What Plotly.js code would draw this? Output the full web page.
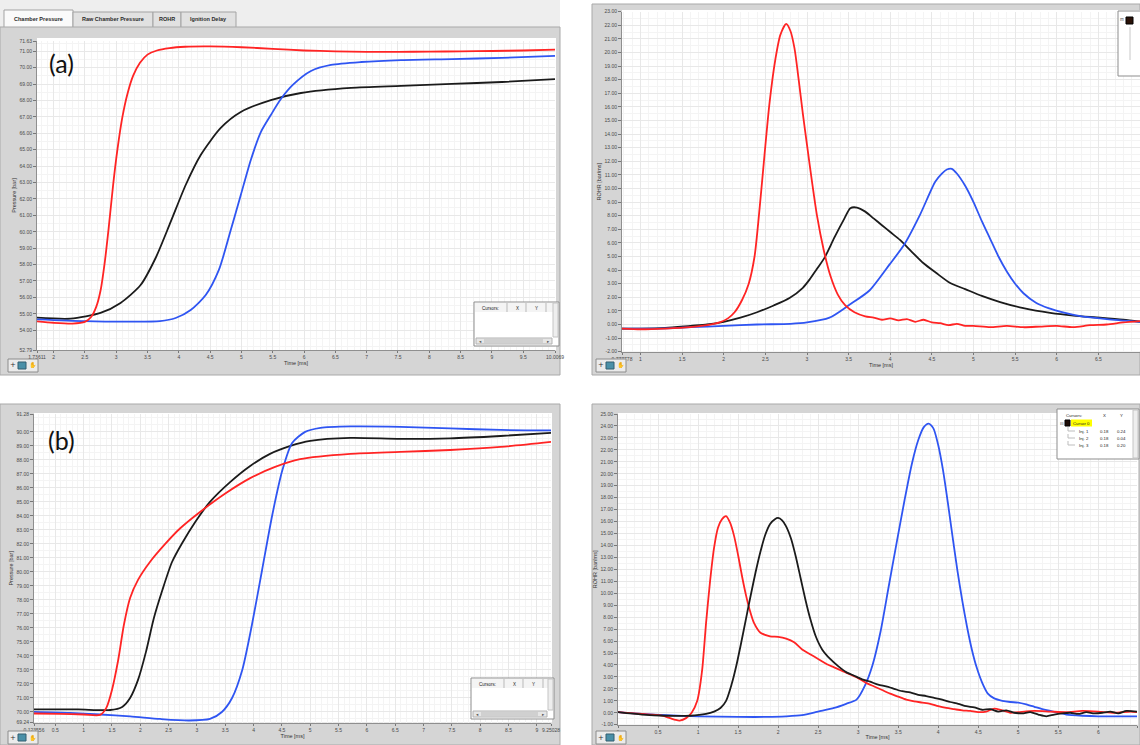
<!DOCTYPE html>
<html>
<head>
<meta charset="utf-8">
<script src="https://cdn.plot.ly/plotly-3.0.1.min.js"></script>
<style>
  html, body { margin: 0; padding: 0; background: #ffffff; }
  #chart { width: 1140px; height: 745px; }
</style>
</head>
<body>
<div id="chart"></div>
<script>
// ---------------- (a) chamber pressure [bar] vs time [ms] ----------------
const tRedA = [1.73611, 2.0, 2.3, 2.5, 2.6, 2.68, 2.75, 2.82, 2.88, 2.95, 3.02, 3.1, 3.18, 3.27, 3.38, 3.5, 3.65, 3.85, 4.1, 4.5, 5.0, 5.5, 6.0, 6.5, 7.0, 7.5, 8.0, 8.5, 9.0, 9.5, 10.0069];
const pRedA = [54.54, 54.45, 54.4, 54.5, 54.8, 55.4, 56.4, 58.2, 60.2, 62.8, 65.0, 67.0, 68.4, 69.5, 70.3, 70.8, 71.05, 71.2, 71.28, 71.3, 71.25, 71.15, 71.05, 71.0, 70.97, 70.97, 70.98, 71.0, 71.02, 71.05, 71.1];
const tBlkA = [1.73611, 2.27, 2.75, 3.07, 3.39, 3.63, 3.87, 4.11, 4.35, 4.67, 4.99, 5.47, 5.95, 6.75, 7.55, 8.36, 9.16, 10.0069];
const pBlkA = [54.76, 54.7, 55.05, 55.66, 56.75, 58.4, 60.6, 62.85, 64.68, 66.33, 67.3, 68.03, 68.46, 68.77, 68.89, 69.01, 69.13, 69.31];
const tBluA = [1.73611, 2.5, 3.2, 3.7, 3.95, 4.19, 4.43, 4.64, 4.83, 4.99, 5.15, 5.31, 5.47, 5.63, 5.82, 6.11, 6.43, 6.91, 7.55, 8.36, 9.16, 10.0069];
const pBluA = [54.66, 54.55, 54.52, 54.55, 54.74, 55.23, 56.14, 57.67, 60.11, 62.24, 64.38, 66.08, 67.12, 68.09, 68.95, 69.8, 70.17, 70.35, 70.47, 70.53, 70.6, 70.72];

// ---------------- (a) rate of heat release [bar/ms] ----------------
const tRedB = [0.777778, 1.0, 1.3, 1.6, 1.8, 1.95, 2.05, 2.13, 2.22, 2.3, 2.37, 2.43, 2.49, 2.55, 2.62, 2.68, 2.75, 2.8, 2.85, 2.9, 2.95, 3.0, 3.06, 3.12, 3.2, 3.28, 3.37, 3.46, 3.57, 3.7, 3.8, 3.9, 4.0, 4.1, 4.2, 4.3, 4.4, 4.5, 4.6, 4.7, 4.8, 4.9, 5.0, 5.2, 5.4, 5.6, 5.8, 6.0, 6.2, 6.4, 6.6, 6.8, 7.0];
const vRedB = [-0.3, -0.35, -0.3, -0.2, -0.05, 0.15, 0.45, 0.9, 1.8, 3.0, 5.0, 8.5, 12.5, 16.3, 19.5, 21.3, 22.1, 21.6, 20.3, 18.0, 15.5, 13.2, 10.5, 8.0, 5.5, 3.6, 2.2, 1.4, 0.9, 0.6, 0.5, 0.35, 0.45, 0.3, 0.4, 0.2, 0.35, 0.15, 0.1, -0.05, 0.05, -0.1, -0.1, -0.2, -0.1, -0.2, -0.15, -0.1, -0.2, -0.05, 0.0, 0.15, 0.25];
const tBlkB = [0.777778, 1.0, 1.3, 1.6, 1.8, 2.0, 2.2, 2.4, 2.6, 2.79, 2.95, 3.03, 3.12, 3.21, 3.33, 3.45, 3.52, 3.6, 3.7, 3.8, 3.9, 4.0, 4.12, 4.25, 4.4, 4.55, 4.72, 4.9, 5.1, 5.32, 5.6, 5.92, 6.2, 6.52, 6.8, 7.0];
const vBlkB = [-0.3, -0.3, -0.25, -0.1, 0.0, 0.2, 0.5, 0.9, 1.4, 1.95, 2.7, 3.3, 4.1, 4.9, 6.4, 7.8, 8.55, 8.6, 8.3, 7.8, 7.3, 6.8, 6.2, 5.4, 4.5, 3.8, 3.05, 2.6, 2.1, 1.65, 1.2, 0.85, 0.65, 0.5, 0.35, 0.2];
const tBluB = [0.777778, 1.2, 1.6, 2.0, 2.4, 2.8, 3.0, 3.27, 3.51, 3.75, 3.99, 4.17, 4.36, 4.54, 4.62, 4.68, 4.74, 4.8, 4.9, 5.0, 5.1, 5.2, 5.3, 5.4, 5.5, 5.6, 5.75, 5.9, 6.1, 6.3, 6.6, 7.0];
const vBluB = [-0.3, -0.3, -0.2, -0.1, 0.0, 0.05, 0.15, 0.5, 1.45, 2.5, 4.4, 5.9, 8.1, 10.5, 11.1, 11.4, 11.45, 11.1, 10.2, 9.0, 7.6, 6.3, 5.0, 3.9, 3.0, 2.3, 1.6, 1.2, 0.85, 0.6, 0.4, 0.2];

// ---------------- (b) chamber pressure [bar] vs time [ms] ----------------
const tRedC = [0.123556, 0.58, 1.0, 1.29, 1.4, 1.5, 1.61, 1.71, 1.82, 1.96, 2.17, 2.44, 2.7, 3.06, 3.5, 3.94, 4.38, 4.82, 5.71, 6.59, 7.47, 8.36, 9.25028];
const pRedC = [69.89, 69.86, 69.82, 69.79, 70.29, 71.57, 73.71, 76.21, 78.14, 79.43, 80.71, 82.0, 83.1, 84.3, 85.6, 86.7, 87.5, 88.05, 88.43, 88.57, 88.71, 88.93, 89.29];
const tBlkC = [0.123556, 0.9, 1.47, 1.68, 1.82, 1.96, 2.1, 2.24, 2.39, 2.56, 2.74, 2.97, 3.23, 3.59, 3.94, 4.29, 4.65, 5.0, 5.71, 6.59, 7.47, 8.36, 9.25028];
const pBlkC = [70.18, 70.18, 70.14, 70.36, 71.0, 72.29, 74.29, 76.71, 78.71, 80.71, 82.07, 83.57, 85.0, 86.43, 87.57, 88.43, 89.0, 89.36, 89.57, 89.5, 89.54, 89.71, 89.93];
const tBluC = [0.123556, 0.76, 1.29, 1.82, 2.35, 2.86, 3.23, 3.44, 3.62, 3.8, 3.97, 4.15, 4.33, 4.51, 4.68, 4.91, 5.18, 5.71, 6.59, 7.47, 8.36, 9.25028];
const pBluC = [70.0, 69.93, 69.82, 69.68, 69.5, 69.39, 69.5, 70.0, 71.0, 73.0, 76.21, 80.14, 84.07, 87.29, 89.21, 90.0, 90.29, 90.39, 90.36, 90.25, 90.14, 90.11];

// ---------------- (b) rate of heat release [bar/ms] ----------------
const tRedD = [0, 0.2, 0.4, 0.55, 0.65, 0.72, 0.77, 0.85, 0.92, 0.99, 1.05, 1.1, 1.15, 1.2, 1.25, 1.3, 1.35, 1.4, 1.45, 1.5, 1.55, 1.6, 1.65, 1.7, 1.78, 1.9, 2.0, 2.1, 2.2, 2.3, 2.4, 2.5, 2.6, 2.7, 2.8, 2.9, 3.0, 3.1, 3.2, 3.3, 3.4, 3.5, 3.6, 3.7, 3.8, 3.9, 4.0, 4.1, 4.2, 4.3, 4.4, 4.5, 4.6, 4.7, 4.8, 4.9, 5.0, 5.2, 5.4, 5.6, 5.8, 6.0, 6.2, 6.4, 6.48333];
const vRedD = [0.05, -0.05, -0.15, -0.25, -0.45, -0.6, -0.65, -0.45, 0.0, 1.0, 3.5, 7.5, 11.0, 13.8, 15.5, 16.2, 16.45, 15.9, 14.8, 13.2, 11.4, 9.8, 8.5, 7.5, 6.7, 6.4, 6.35, 6.2, 5.9, 5.3, 4.9, 4.5, 4.1, 3.8, 3.5, 3.2, 2.9, 2.5, 2.2, 1.9, 1.6, 1.35, 1.1, 0.95, 0.85, 0.75, 0.55, 0.4, 0.3, 0.2, 0.15, 0.05, 0.1, 0.35, 0.2, 0.0, 0.05, 0.15, 0.1, 0.05, 0.15, 0.1, 0.0, 0.1, 0.05];
const tBlkD = [0, 0.3, 0.6, 0.9, 1.1, 1.2, 1.28, 1.35, 1.42, 1.48, 1.54, 1.6, 1.66, 1.72, 1.78, 1.84, 1.9, 1.96, 2.0, 2.05, 2.1, 2.16, 2.22, 2.28, 2.34, 2.4, 2.47, 2.55, 2.65, 2.75, 2.85, 2.95, 3.05, 3.15, 3.25, 3.35, 3.45, 3.55, 3.65, 3.75, 3.85, 3.95, 4.05, 4.15, 4.25, 4.35, 4.45, 4.55, 4.65, 4.75, 4.85, 4.95, 5.05, 5.15, 5.25, 5.35, 5.45, 5.55, 5.65, 5.75, 5.85, 5.95, 6.05, 6.15, 6.25, 6.35, 6.48333];
const vBlkD = [0.05, -0.15, -0.25, -0.25, -0.1, 0.1, 0.4, 1.0, 2.4, 4.0, 5.9, 7.9, 9.9, 11.8, 13.5, 14.9, 15.8, 16.2, 16.3, 16.1, 15.6, 14.6, 13.1, 11.3, 9.5, 7.9, 6.4, 5.3, 4.5, 3.9, 3.4, 3.1, 2.8, 2.6, 2.35, 2.2, 2.0, 1.8, 1.7, 1.5, 1.4, 1.25, 1.1, 0.9, 0.75, 0.55, 0.45, 0.25, 0.3, 0.1, 0.2, 0.0, -0.05, 0.05, -0.15, -0.3, -0.15, -0.05, 0.0, -0.1, 0.05, -0.05, 0.0, 0.1, -0.05, 0.15, 0.1];
const tBluD = [0, 0.3, 0.6, 1.0, 1.5, 1.85, 2.1, 2.3, 2.5, 2.7, 2.85, 2.98, 3.08, 3.18, 3.28, 3.38, 3.48, 3.58, 3.67, 3.75, 3.82, 3.88, 3.94, 4.0, 4.06, 4.12, 4.18, 4.24, 4.3, 4.36, 4.42, 4.48, 4.55, 4.62, 4.7, 4.8, 4.9, 5.0, 5.1, 5.2, 5.3, 5.4, 5.5, 5.6, 5.8, 6.0, 6.2, 6.48333];
const vBluD = [0.05, -0.1, -0.2, -0.3, -0.35, -0.35, -0.3, -0.2, 0.1, 0.4, 0.75, 1.1, 2.2, 4.0, 6.8, 10.5, 14.2, 17.8, 20.8, 22.8, 23.9, 24.2, 23.8, 22.4, 20.3, 17.6, 14.7, 11.9, 9.4, 7.2, 5.3, 3.8, 2.5, 1.6, 1.2, 1.0, 0.9, 0.85, 0.7, 0.5, 0.3, 0.15, 0.0, -0.15, -0.25, -0.3, -0.3, -0.3];

// ---------------- axis ticks ----------------
const xTicksA = [1.73611, 2, 2.5, 3, 3.5, 4, 4.5, 5, 5.5, 6, 6.5, 7, 7.5, 8, 8.5, 9, 9.5, 10.0069];
const yTicksA = [52.79, 54, 55, 56, 57, 58, 59, 60, 61, 62, 63, 64, 65, 66, 67, 68, 69, 70, 71, 71.63];
const xTicksB = [0.777778, 1, 1.5, 2, 2.5, 3, 3.5, 4, 4.5, 5, 5.5, 6, 6.5, 7];
const yTicksB = [-2, -1, 0, 1, 2, 3, 4, 5, 6, 7, 8, 9, 10, 11, 12, 13, 14, 15, 16, 17, 18, 19, 20, 21, 22, 23];
const xTicksC = [0.123556, 0.5, 1, 1.5, 2, 2.5, 3, 3.5, 4, 4.5, 5, 5.5, 6, 6.5, 7, 7.5, 8, 8.5, 9, 9.25028];
const yTicksC = [69.24, 70, 71, 72, 73, 74, 75, 76, 77, 78, 79, 80, 81, 82, 83, 84, 85, 86, 87, 88, 89, 90, 91.28];
const xTicksD = [0, 0.5, 1, 1.5, 2, 2.5, 3, 3.5, 4, 4.5, 5, 5.5, 6, 6.48333];
const yTicksD = [-1, 0, 1, 2, 3, 4, 5, 6, 7, 8, 9, 10, 11, 12, 13, 14, 15, 16, 17, 18, 19, 20, 21, 22, 23, 24, 25];

const tabNames = ['Chamber Pressure', 'Raw Chamber Pressure', 'ROHR', 'Ignition Delay'];
const cursorRows = [['Inj. 1', '0.18', '0.24'], ['Inj. 2', '0.18', '0.04'], ['Inj. 3', '0.18', '0.20']];

// ---------------- page geometry (pixels) ----------------
const W = 1140, H = 745;
const fx = v => v / W;
const fy = v => 1 - v / H;

const RED = '#ff2424', BLACK = '#1b1b1b', BLUE = '#2f55f2';
const tickFont = { family: 'Liberation Sans, Arial, sans-serif', size: 5, color: '#4a4a4a' };
const titleFont = { family: 'Liberation Sans, Arial, sans-serif', size: 5.5, color: '#333333' };

const xLabel = v => String(v);
const yLabel = v => v.toFixed(2);

function xAxis(px0, px1, range, ticks, anchor, minorStep) {
  return {
    domain: [fx(px0), fx(px1)], range, anchor,
    tickmode: 'array', tickvals: ticks, ticktext: ticks.map(xLabel),
    ticks: 'outside', ticklen: 2, tickcolor: '#777777', tickfont: tickFont,
    showline: true, linecolor: '#8f8f8f', linewidth: 1,
    showgrid: true, gridcolor: '#e8e8e8', gridwidth: 1, zeroline: false,
    minor: { dtick: minorStep, showgrid: true, gridcolor: '#f4f4f4', gridwidth: 1 },
    title: { text: 'Time [ms]', font: titleFont, standoff: 1 },
    automargin: false, fixedrange: true
  };
}
function yAxis(py0, py1, range, ticks, anchor, label, minorStep) {
  return {
    domain: [fy(py1), fy(py0)], range, anchor,
    tickmode: 'array', tickvals: ticks, ticktext: ticks.map(yLabel),
    ticks: 'outside', ticklen: 3, tickcolor: '#777777', tickfont: tickFont,
    showline: true, linecolor: '#8f8f8f', linewidth: 1,
    showgrid: true, gridcolor: '#e8e8e8', gridwidth: 1, zeroline: false,
    minor: { dtick: minorStep, showgrid: true, gridcolor: '#f4f4f4', gridwidth: 1 },
    title: { text: label, font: titleFont, standoff: 2 },
    automargin: false, fixedrange: true
  };
}

function line(x, y, color, xa, ya) {
  return { type: 'scatter', mode: 'lines', x, y, xaxis: xa, yaxis: ya,
    line: { color, width: 1.8, shape: 'spline', smoothing: 0.7 }, hoverinfo: 'skip' };
}

const data = [
  line(tBlkA, pBlkA, BLACK, 'x', 'y'),
  line(tBluA, pBluA, BLUE, 'x', 'y'),
  line(tRedA, pRedA, RED, 'x', 'y'),
  line(tBlkB, vBlkB, BLACK, 'x2', 'y2'),
  line(tBluB, vBluB, BLUE, 'x2', 'y2'),
  line(tRedB, vRedB, RED, 'x2', 'y2'),
  line(tBlkC, pBlkC, BLACK, 'x3', 'y3'),
  line(tBluC, pBluC, BLUE, 'x3', 'y3'),
  line(tRedC, pRedC, RED, 'x3', 'y3'),
  line(tBluD, vBluD, BLUE, 'x4', 'y4'),
  line(tRedD, vRedD, RED, 'x4', 'y4'),
  line(tBlkD, vBlkD, BLACK, 'x4', 'y4')
];

// ---------------- frames, panels, cursor boxes ----------------
const shapes = [];
const annotations = [];
function rect(x0, y0, x1, y1, fill, lineColor, layer, lw) {
  shapes.push({ type: 'rect', xref: 'paper', yref: 'paper',
    x0: fx(x0), x1: fx(x1), y0: fy(y1), y1: fy(y0),
    fillcolor: fill, line: { color: lineColor || 'rgba(0,0,0,0)', width: lineColor ? (lw || 1) : 0 },
    layer: layer || 'below' });
}
function seg(x0, y0, x1, y1, color, layer) {
  shapes.push({ type: 'line', xref: 'paper', yref: 'paper',
    x0: fx(x0), x1: fx(x1), y0: fy(y0), y1: fy(y1),
    line: { color, width: 1 }, layer: layer || 'above' });
}
function text(x, y, t, size, opts) {
  annotations.push(Object.assign({ xref: 'paper', yref: 'paper', x: fx(x), y: fy(y), text: t,
    showarrow: false, xanchor: 'center', yanchor: 'middle',
    font: { family: 'Liberation Sans, Arial, sans-serif', size, color: '#222222' } }, opts || {}));
}

// tab strip above the first graph
rect(0, 0, 560, 28, '#eeeeee');
const tabEdges = [[4, 73], [73, 153], [153, 181], [181, 236]];
tabEdges.forEach((e, i) => {
  rect(e[0], i === 0 ? 10 : 12, e[1], 28, i === 0 ? '#fafafa' : '#e1e1e1', '#a3a3a3');
  text((e[0] + e[1]) / 2, 19.5, '<b>' + tabNames[i] + '</b>', 5.5, { font: { family: 'Liberation Sans, Arial, sans-serif', size: 5.5, color: '#2a2a2a' } });
});

// grey graph panels
rect(0, 27, 560, 375, '#d5d5d5', '#a9a9a9');
rect(592, 4, 1140, 375, '#d5d5d5', '#a9a9a9');
rect(0, 404, 560, 745, '#d5d5d5', '#a9a9a9');
rect(592, 404, 1140, 745, '#d5d5d5', '#a9a9a9');

// white plotting areas
rect(37, 38, 556, 350, '#ffffff');
rect(622, 10, 1140, 351.7, '#ffffff');
rect(34, 413, 552, 722.6, '#ffffff');
rect(618, 413, 1138, 724.7, '#ffffff');

// graph palette toolbars
[[8, 359], [596, 359], [8, 731], [596, 731]].forEach(p => {
  const x = p[0], y = p[1];
  rect(x, y, x + 30, y + 13, '#ebebeb', '#8c8c8c', 'above');
  text(x + 5, y + 6.5, '+', 7, { font: { family: 'DejaVu Sans', size: 7, color: '#333' } });
  rect(x + 10, y + 3, x + 18, y + 10, '#4a90a8', '#335f70', 'above');
  text(x + 24, y + 6.5, '✋', 6, { font: { family: 'DejaVu Sans', size: 6, color: '#444' } });
});

// cursor tables on the pressure graphs
function cursorBox(x0, y0, x1, y1) {
  rect(x0, y0, x1, y1, '#ffffff', '#8d8d8d', 'above');
  rect(x0 + 1, y0 + 1, x1 - 1, y0 + 10, '#f4f4f4', null, 'above');
  seg(x0 + 33, y0 + 1, x0 + 33, y0 + 10, '#b9b9b9');
  seg(x0 + 52, y0 + 1, x0 + 52, y0 + 10, '#b9b9b9');
  seg(x0 + 72, y0 + 1, x0 + 72, y0 + 10, '#b9b9b9');
  text(x0 + 16, y0 + 6, 'Cursors:', 4.5);
  text(x0 + 43, y0 + 6, 'X', 4.5);
  text(x0 + 62, y0 + 6, 'Y', 4.5);
  rect(x1 - 6, y0 + 1, x1 - 1, y1 - 9, '#eeeeee', '#c4c4c4', 'above');
  rect(x0 + 2, y1 - 8, x1 - 7, y1 - 2, '#e6e6e6', '#b2b2b2', 'above');
  rect(x0 + 10, y1 - 7, x1 - 16, y1 - 3, '#d0d0d0', null, 'above');
  text(x0 + 6, y1 - 5, '◂', 4.5, { font: { family: 'DejaVu Sans', size: 4.5, color: '#555' } });
  text(x1 - 11, y1 - 5, '▸', 4.5, { font: { family: 'DejaVu Sans', size: 4.5, color: '#555' } });
}
cursorBox(474, 302, 559, 346);
cursorBox(471, 678, 554, 719);

// legend box, upper ROHR graph (clipped at the page edge)
rect(1118, 11, 1142, 76, '#ffffff', '#8d8d8d', 'above');
text(1122, 20, '⊟', 4.5, { font: { family: 'DejaVu Sans', size: 4.5, color: '#555' } });
rect(1126, 17, 1133, 24, '#2a1208', '#000000', 'above');
seg(1130, 27, 1130, 60, '#c8c8c8');

// cursor legend, lower ROHR graph
rect(1057, 409, 1139, 459, '#ffffff', '#8d8d8d', 'above');
rect(1133, 410, 1138, 458, '#eeeeee', '#c4c4c4', 'above');
text(1074, 415, 'Cursors:', 4.3);
text(1104, 415, 'X', 4.3);
text(1121, 415, 'Y', 4.3);
text(1062, 423, '⊟', 4.3, { font: { family: 'DejaVu Sans', size: 4.3, color: '#555' } });
rect(1065, 420, 1070, 426, '#1c0b05', '#000000', 'above');
rect(1071, 419.5, 1092, 426.5, '#ffff00', null, 'above');
text(1081.5, 423, 'Cursor 0', 4.3);
cursorRows.forEach((r, i) => {
  const y = 431 + i * 7;
  seg(1068, y - 4, 1068, y, '#bdbdbd');
  seg(1068, y, 1075, y, '#bdbdbd');
  text(1084, y, r[0], 4.3);
  text(1104, y, r[1], 4.3);
  text(1121, y, r[2], 4.3);
});

// panel labels
text(61, 63, '(a)', 25, { font: { family: 'Lato, Open Sans, sans-serif', size: 25, color: '#111111' } });
text(61, 440, '(b)', 25, { font: { family: 'Lato, Open Sans, sans-serif', size: 25, color: '#111111' } });

const layout = {
  width: W, height: H,
  margin: { l: 0, r: 0, t: 0, b: 0 },
  paper_bgcolor: '#ffffff',
  plot_bgcolor: 'rgba(0,0,0,0)',
  showlegend: false,
  xaxis:  xAxis(37, 555, [1.73611, 10.0069], xTicksA, 'y', 0.1),
  yaxis:  yAxis(41, 350, [52.79, 71.63], yTicksA, 'x', 'Pressure [bar]', 0.5),
  xaxis2: xAxis(622, 1140, [0.777778, 7.0], xTicksB, 'y2', 0.1),
  yaxis2: yAxis(11.7, 351.7, [-2, 23], yTicksB, 'x2', 'ROHR [bar/ms]', 0.5),
  xaxis3: xAxis(34, 551, [0.123556, 9.25028], xTicksC, 'y3', 0.1),
  yaxis3: yAxis(414, 722.6, [69.24, 91.28], yTicksC, 'x3', 'Pressure [bar]', 0.5),
  xaxis4: xAxis(618, 1137, [0, 6.48333], xTicksD, 'y4', 0.1),
  yaxis4: yAxis(414, 724.7, [-1, 25], yTicksD, 'x4', 'ROHR [bar/ms]', 0.5),
  shapes, annotations
};

Plotly.newPlot('chart', data, layout, { staticPlot: true, displayModeBar: false });
</script>
</body>
</html>
